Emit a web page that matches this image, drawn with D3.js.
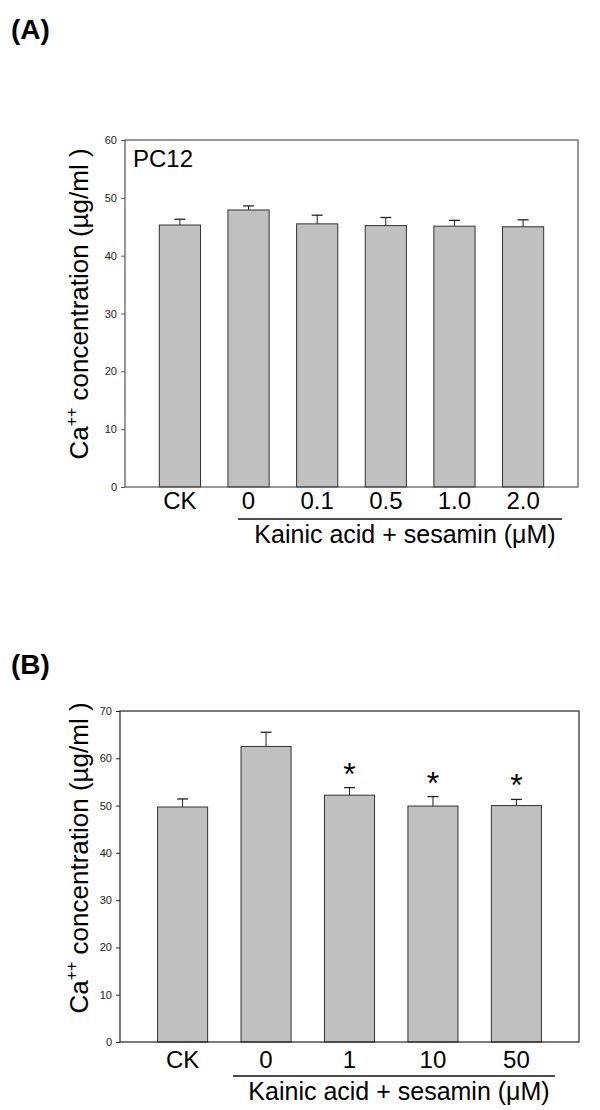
<!DOCTYPE html>
<html>
<head>
<meta charset="utf-8">
<script src="https://cdn.jsdelivr.net/npm/d3@7"></script>
<style>
  body { margin: 0; background: #fff; }
  svg { font-family: Arial, "Liberation Sans", sans-serif; }
</style>
</head>
<body>
<div id="chart"></div>
<script>
// Panel A data (PC12)
const groupsA = ["CK", "0", "0.1", "0.5", "1.0", "2.0"];
const meansA = [45.3, 47.9, 45.5, 45.2, 45.1, 45.0];
const errA = [1.0, 0.7, 1.5, 1.4, 1.0, 1.2];
const ticksA = [0, 10, 20, 30, 40, 50, 60];

// Panel B data
const groupsB = ["CK", "0", "1", "10", "50"];
const meansB = [49.7, 62.5, 52.2, 49.9, 50.0];
const errB = [1.7, 3.0, 1.6, 2.0, 1.3];
const sigB = [false, false, true, true, true];
const ticksB = [0, 10, 20, 30, 40, 50, 60, 70];

const svg = d3.select("#chart").append("svg")
  .attr("width", 600)
  .attr("height", 1110);

function drawPanel(opt) {
  const { groups, means, errs, sig, ticks, left, right, top, bottom, axisColor } = opt;

  const x = d3.scaleBand()
    .domain(groups)
    .range([left, right])
    .paddingInner(opt.padIn)
    .paddingOuter(opt.padOut);

  const y = d3.scaleLinear()
    .domain([0, d3.max(ticks)])
    .range([bottom, top]);

  const g = svg.append("g");

  // Bars
  g.selectAll("rect.bar")
    .data(means)
    .enter()
    .append("rect")
      .attr("class", "bar")
      .attr("x", (d, i) => x(groups[i]))
      .attr("y", d => y(d))
      .attr("width", x.bandwidth())
      .attr("height", d => y(0) - y(d))
      .attr("fill", "#c0c0c0")
      .attr("stroke", "#333")
      .attr("stroke-width", 1);

  // Error bars (upper only)
  means.forEach((m, i) => {
    const cx = x(groups[i]) + x.bandwidth() / 2;
    g.append("line")
      .attr("x1", cx).attr("x2", cx)
      .attr("y1", y(m)).attr("y2", y(m + errs[i]))
      .attr("stroke", "#222");
    g.append("line")
      .attr("x1", cx - 5.5).attr("x2", cx + 5.5)
      .attr("y1", y(m + errs[i])).attr("y2", y(m + errs[i]))
      .attr("stroke", "#222")
      .attr("stroke-width", 1.3);
    if (sig && sig[i]) {
      g.append("text")
        .attr("x", cx)
        .attr("y", y(m + errs[i]) - 3)
        .attr("text-anchor", "middle")
        .attr("font-size", 32)
        .text("*");
    }
  });

  // Frame
  g.append("rect")
    .attr("x", left).attr("y", top)
    .attr("width", right - left).attr("height", bottom - top)
    .attr("fill", "none")
    .attr("stroke", axisColor)
    .attr("stroke-width", 1.2);

  // Y axis
  const yAxis = g.append("g")
    .attr("transform", `translate(${left},0)`)
    .call(d3.axisLeft(y).tickValues(ticks).tickSize(4).tickPadding(4));
  yAxis.select(".domain").remove();
  yAxis.selectAll("line").attr("stroke", axisColor);
  yAxis.selectAll("text")
    .attr("font-size", 11)
    .attr("font-family", "Arial, 'Liberation Sans', sans-serif")
    .attr("fill", "#222");

  // Category labels
  g.selectAll("text.cat")
    .data(groups)
    .enter()
    .append("text")
      .attr("class", "cat")
      .attr("x", d => x(d) + x.bandwidth() / 2)
      .attr("y", opt.catY)
      .attr("text-anchor", "middle")
      .attr("font-size", 24)
      .text(d => d);

  // Treatment underline and label
  g.append("line")
    .attr("x1", opt.lineX1).attr("x2", opt.lineX2)
    .attr("y1", opt.lineY).attr("y2", opt.lineY)
    .attr("stroke", "#111")
    .attr("stroke-width", 1.3);

  g.append("text")
    .attr("x", (opt.lineX1 + opt.lineX2) / 2 + 5)
    .attr("y", opt.lineY + 24)
    .attr("text-anchor", "middle")
    .attr("font-size", 25)
    .text("Kainic acid + sesamin (\u03bcM)");

  // Y axis title
  const yt = g.append("text")
    .attr("transform", `translate(${opt.titleX},${opt.titleY}) rotate(-90)`)
    .attr("text-anchor", "middle")
    .attr("font-size", 26);
  yt.append("tspan").text("Ca");
  yt.append("tspan").attr("font-size", 16).attr("dy", -11).text("++");
  yt.append("tspan").attr("dy", 11).text(" concentration (\u00b5g/ml )");

  // Panel letter
  svg.append("text")
    .attr("x", 11)
    .attr("y", opt.letterY)
    .attr("font-size", 28)
    .attr("font-weight", "bold")
    .text(opt.letter);
}

drawPanel({
  groups: groupsA, means: meansA, errs: errA, sig: null, ticks: ticksA,
  left: 125, right: 578, top: 140, bottom: 487,
  padIn: 0.4, padOut: 0.5, axisColor: "#555",
  catY: 509, lineX1: 238, lineX2: 562, lineY: 519,
  titleX: 88, titleY: 304,
  letter: "(A)", letterY: 39
});

svg.append("text")
  .attr("x", 133)
  .attr("y", 167)
  .attr("font-size", 24)
  .text("PC12");

drawPanel({
  groups: groupsB, means: meansB, errs: errB, sig: sigB, ticks: ticksB,
  left: 120, right: 579, top: 711, bottom: 1042,
  padIn: 0.4, padOut: 0.45, axisColor: "#222",
  catY: 1068, lineX1: 233, lineX2: 555, lineY: 1076,
  titleX: 88, titleY: 858,
  letter: "(B)", letterY: 674
});
</script>
</body>
</html>
